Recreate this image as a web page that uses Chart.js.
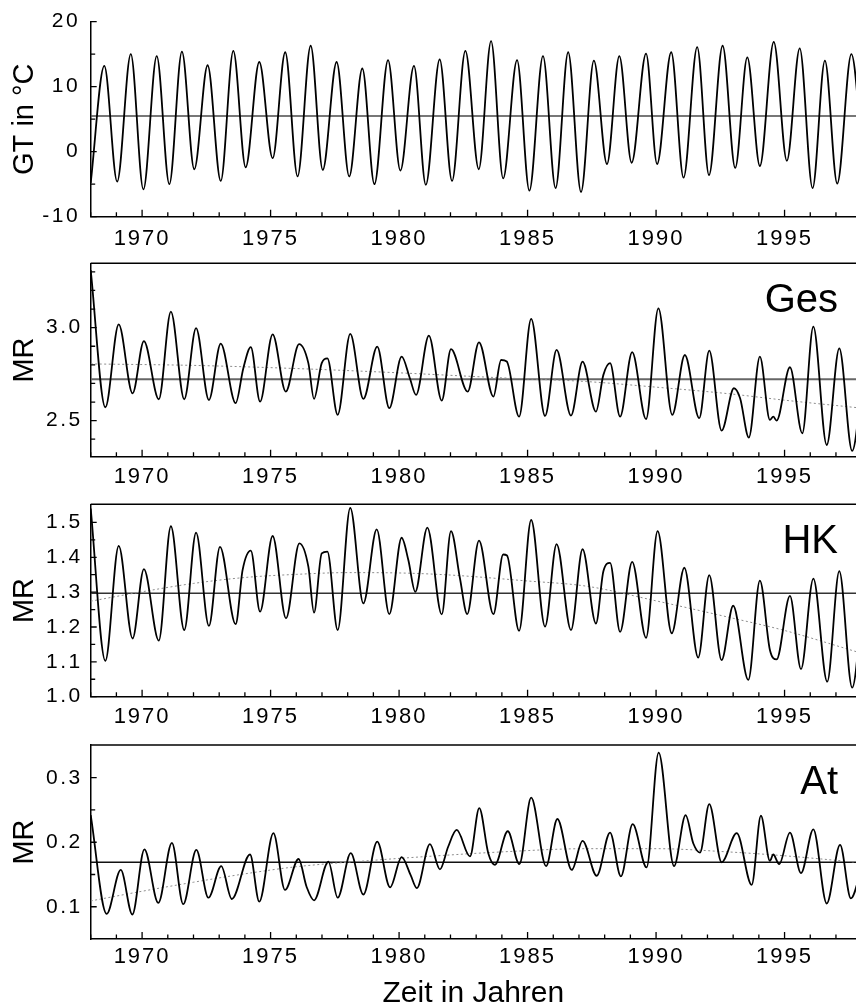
<!DOCTYPE html>
<html><head><meta charset="utf-8">
<script src="https://cdn.jsdelivr.net/npm/chart.js@4.4.1/dist/chart.umd.min.js"></script>
<style>
html,body{margin:0;padding:0;background:#fff;width:856px;height:1007px;overflow:hidden;position:relative;}
canvas{position:absolute;left:0;}
</style></head><body>
<canvas id="c1" width="856" height="260" style="top:0px"></canvas>
<canvas id="c2" width="856" height="240" style="top:255px"></canvas>
<canvas id="c3" width="856" height="245" style="top:495px"></canvas>
<canvas id="c4" width="856" height="275" style="top:740px"></canvas>
<script>
// ---- axis ticks ----
const yearTicks = [1968,1969,1970,1971,1972,1973,1974,1975,1976,1977,1978,1979,1980,1981,1982,1983,1984,1985,1986,1987,1988,1989,1990,1991,1992,1993,1994,1995,1996,1997];
const yearLabels = [1970,1975,1980,1985,1990,1995];
const gtTicks = [-10, 0, 10, 20];
const gtMinor = [-5, 5, 15];
const gesTicks = [2.5, 3.0];
const gesMinor = [2.4, 2.6, 2.7, 2.8, 2.9, 3.1, 3.2, 3.3];
const hkTicks = [1.0, 1.1, 1.2, 1.3, 1.4, 1.5];
const hkMinor = [1.05, 1.15, 1.25, 1.35, 1.45];
const atTicks = [0.1, 0.2, 0.3];
const atMinor = [0.15, 0.25];

// ---- GT (temperature) ----
const gtT = [1968.00,1968.53,1969.03,1969.56,1970.05,1970.57,1971.06,1971.55,1972.03,1972.55,1973.06,1973.55,1974.03,1974.56,1975.08,1975.57,1976.05,1976.56,1977.03,1977.57,1978.06,1978.57,1979.04,1979.57,1980.05,1980.58,1981.04,1981.58,1982.06,1982.58,1983.10,1983.58,1984.05,1984.59,1985.07,1985.60,1986.09,1986.58,1987.08,1987.58,1988.09,1988.57,1989.05,1989.61,1990.04,1990.59,1991.07,1991.60,1992.06,1992.59,1993.08,1993.55,1994.04,1994.58,1995.09,1995.59,1996.09,1996.57,1997.05,1997.60,1998.08];
const gtV = [-4.8,13.2,-4.6,15.0,-5.8,14.7,-5.0,15.4,-2.7,13.3,-4.5,15.5,-2.4,13.8,-1.0,15.3,-3.8,16.3,-2.8,13.8,-3.8,12.8,-5.0,14.1,-2.9,13.2,-5.1,14.2,-4.5,15.5,-2.7,17.0,-4.1,14.1,-6.0,14.7,-5.6,15.3,-6.2,14.0,-1.9,14.7,-1.7,15.1,-1.9,15.3,-4.0,16.1,-3.6,16.3,-2.5,14.5,-2.2,16.9,-1.4,15.9,-5.6,14.0,-4.9,15.0,-3.0];
const gtMean = 5.5;

// ---- Ges ----
const gesT = [1968.00,1968.57,1969.09,1969.63,1970.07,1970.65,1971.12,1971.64,1972.10,1972.60,1973.06,1973.64,1973.94,1974.23,1974.59,1975.08,1975.59,1976.11,1976.47,1976.69,1976.99,1977.21,1977.61,1978.10,1978.61,1979.15,1979.62,1980.10,1980.42,1980.66,1981.16,1981.66,1982.02,1982.67,1983.11,1983.67,1983.97,1984.19,1984.67,1985.14,1985.68,1986.13,1986.69,1987.14,1987.66,1987.95,1988.21,1988.60,1989.07,1989.61,1990.09,1990.63,1991.12,1991.68,1992.07,1992.55,1993.03,1993.27,1993.61,1994.04,1994.43,1994.56,1994.69,1995.21,1995.69,1996.12,1996.64,1997.13,1997.63,1998.12];
const gesV = [3.31,2.572,3.018,2.647,2.928,2.615,3.086,2.615,2.997,2.611,2.914,2.594,2.782,2.895,2.602,2.964,2.656,2.911,2.809,2.617,2.809,2.835,2.531,2.966,2.617,2.898,2.567,2.844,2.728,2.638,2.957,2.608,2.884,2.656,2.921,2.629,2.826,2.818,2.521,3.047,2.525,2.880,2.527,2.817,2.548,2.746,2.809,2.521,2.868,2.508,3.104,2.531,2.853,2.513,2.876,2.446,2.674,2.620,2.409,2.844,2.504,2.521,2.500,2.787,2.432,3.005,2.369,2.889,2.337,2.85];
const gesMean = 2.723;
const gesTrendT = [1968,1972,1976,1980,1984,1987.3,1990,1992.8,1995,1997.8];
const gesTrendV = [2.805,2.797,2.78,2.757,2.73,2.71,2.68,2.645,2.61,2.57];

// ---- HK ----
const hkT = [1968.00,1968.57,1969.09,1969.63,1970.07,1970.65,1971.12,1971.64,1972.10,1972.60,1973.03,1973.64,1973.91,1974.23,1974.59,1975.08,1975.60,1976.12,1976.47,1976.69,1976.99,1977.21,1977.61,1978.10,1978.61,1979.13,1979.62,1980.10,1980.36,1980.63,1981.10,1981.66,1982.02,1982.37,1982.65,1983.11,1983.67,1984.05,1984.20,1984.67,1985.14,1985.68,1986.13,1986.69,1987.14,1987.66,1987.95,1988.21,1988.60,1989.07,1989.61,1990.06,1990.61,1991.10,1991.64,1992.07,1992.55,1993.00,1993.59,1994.04,1994.43,1994.69,1995.21,1995.64,1996.12,1996.66,1997.13,1997.63,1998.12];
const hkV = [1.540,1.103,1.433,1.167,1.366,1.161,1.489,1.191,1.471,1.203,1.430,1.208,1.363,1.419,1.244,1.461,1.225,1.440,1.373,1.241,1.411,1.416,1.191,1.542,1.268,1.480,1.237,1.456,1.392,1.301,1.485,1.236,1.475,1.339,1.237,1.448,1.237,1.408,1.405,1.189,1.507,1.201,1.438,1.191,1.423,1.210,1.360,1.384,1.186,1.387,1.169,1.475,1.182,1.370,1.112,1.349,1.105,1.261,1.048,1.333,1.134,1.107,1.289,1.079,1.339,1.043,1.360,1.026,1.35];
const hkMean = 1.297;
const hkTrendT = [1968,1970,1972,1974,1976,1978,1980,1982,1985,1987.3,1990,1993,1995,1997.8];
const hkTrendV = [1.274,1.301,1.325,1.342,1.351,1.356,1.355,1.349,1.332,1.317,1.275,1.225,1.19,1.129];

// ---- At ----
const atT = [1968.00,1968.62,1969.17,1969.62,1970.09,1970.63,1971.16,1971.60,1972.11,1972.58,1973.08,1973.49,1974.20,1974.56,1975.11,1975.56,1976.09,1976.40,1976.69,1977.25,1977.61,1978.12,1978.61,1979.15,1979.65,1980.10,1980.45,1980.69,1981.20,1981.59,1981.91,1982.24,1982.76,1983.12,1983.47,1983.73,1984.23,1984.68,1985.14,1985.72,1986.16,1986.72,1987.14,1987.69,1988.21,1988.63,1989.09,1989.63,1990.10,1990.70,1991.15,1991.45,1991.71,1992.07,1992.55,1993.14,1993.72,1994.08,1994.43,1994.56,1994.79,1995.21,1995.64,1996.12,1996.64,1997.16,1997.58,1998.0];
const atV = [0.242,0.089,0.157,0.088,0.189,0.106,0.199,0.104,0.188,0.114,0.163,0.112,0.181,0.108,0.214,0.126,0.174,0.131,0.110,0.170,0.114,0.183,0.119,0.201,0.130,0.177,0.149,0.129,0.197,0.158,0.193,0.219,0.178,0.253,0.183,0.165,0.217,0.166,0.269,0.163,0.236,0.157,0.202,0.148,0.215,0.147,0.228,0.161,0.339,0.163,0.242,0.198,0.184,0.259,0.169,0.214,0.134,0.241,0.171,0.181,0.166,0.215,0.152,0.220,0.105,0.196,0.113,0.16];
const atMean = 0.169;
const atTrendT = [1968,1970,1972,1974,1976,1979,1981.5,1984,1987.3,1990,1992.8,1995,1997.8];
const atTrendV = [0.109,0.124,0.138,0.151,0.162,0.172,0.179,0.185,0.19,0.19,0.185,0.179,0.169];

const xMin = 1968, xMax = 1997.78;

Chart.defaults.font.family = "'Liberation Sans', Arial, Helvetica, sans-serif";
Chart.defaults.color = '#000';

function pts(t, v) { return t.map((x, i) => ({x: x, y: v[i]})); }

// widen tick-label lettering (reference digits are set wide)
const labelSpacing = {
  id: 'labelSpacing',
  afterUpdate(chart) {
    Object.values(chart.scales).forEach(s => {
      if (s._spaced) return;
      const orig = s.drawLabels.bind(s);
      const sp = s.axis === 'x' ? '2px' : '2.5px';
      s.drawLabels = function (ca) {
        const ctx = this.ctx;
        ctx.save();
        try { ctx.letterSpacing = sp; } catch (e) {}
        orig(ca);
        ctx.restore();
      };
      s._spaced = true;
    });
  }
};

const inwardTicks = {
  id: 'inward',
  afterDraw(chart, args, o) {
    const ctx = chart.ctx, a = chart.chartArea, xs = chart.scales.x, ys = chart.scales.y;
    ctx.save();
    ctx.strokeStyle = '#000';
    ctx.lineWidth = 1.3;
    ctx.beginPath();
    yearTicks.forEach(v => {
      const p = xs.getPixelForValue(v);
      const len = yearLabels.includes(v) ? 7 : 4.5;
      ctx.moveTo(p, a.bottom); ctx.lineTo(p, a.bottom - len);
    });
    o.yMajor.forEach(v => {
      const p = ys.getPixelForValue(v);
      ctx.moveTo(a.left, p); ctx.lineTo(a.left + 6, p);
    });
    o.yMinor.forEach(v => {
      const p = ys.getPixelForValue(v);
      ctx.moveTo(a.left, p); ctx.lineTo(a.left + 4.5, p);
    });
    ctx.stroke();
    if (o.topLine) {
      ctx.lineWidth = 1.5;
      ctx.beginPath();
      ctx.moveTo(a.left, a.top); ctx.lineTo(a.right, a.top);
      ctx.stroke();
    }
    if (o.label) {
      ctx.fillStyle = '#000';
      ctx.font = "40px 'Liberation Sans', Arial, sans-serif";
      ctx.textAlign = 'right';
      ctx.textBaseline = 'alphabetic';
      ctx.fillText(o.label, a.right - 18, a.top + 49);
    }
    ctx.restore();
  }
};

function panel(id, o) {
  const ds = [{data: pts(o.t, o.v), borderColor: '#000', borderWidth: 1.8, cubicInterpolationMode: 'monotone'}];
  if (o.trendT) ds.push({data: pts(o.trendT, o.trendV), borderColor: '#8c8c8c', borderWidth: 1, borderDash: [2, 2.5], cubicInterpolationMode: 'monotone'});
  ds.push({data: pts([xMin, xMax + 1], [o.mean, o.mean]), borderColor: o.meanColor, borderWidth: o.meanWidth});
  new Chart(document.getElementById(id), {
    type: 'line',
    data: {datasets: ds},
    options: {
      responsive: false, animation: false, devicePixelRatio: 1, parsing: false, events: [],
      elements: {point: {radius: 0, hoverRadius: 0}, line: {fill: false}},
      layout: {padding: {top: o.padTop, left: 0, right: 0, bottom: 0}},
      plugins: {legend: {display: false}, tooltip: {enabled: false},
        inward: {yMajor: o.yTicks, yMinor: o.yMinor, topLine: o.topLine, label: o.label}},
      scales: {
        x: {
          type: 'linear', min: xMin, max: xMax,
          afterBuildTicks: s => { s.ticks = yearLabels.map(v => ({value: v})); },
          afterFit: s => { s.height = o.xH; s.paddingLeft = 0; s.paddingRight = 0; },
          grid: {display: false, drawTicks: false},
          border: {display: true, color: '#000', width: 1.5},
          ticks: {autoSkip: false, maxRotation: 0, padding: o.xPad, font: {size: 22}, color: '#000', callback: v => String(v)},
          title: o.xTitle ? {display: true, text: o.xTitle, font: {size: 30}, color: '#000', padding: {top: 0, bottom: 3}} : {display: false}
        },
        y: {
          type: 'linear', min: o.yMin, max: o.yMax,
          afterBuildTicks: s => { s.ticks = o.yTicks.map(v => ({value: v})); },
          afterFit: s => { s.width = 90.7; s.paddingTop = 0; s.paddingBottom = 0; },
          grid: {display: false, drawTicks: false},
          border: {display: true, color: '#000', width: 1.5},
          ticks: {autoSkip: false, padding: o.yPad, font: {size: 21}, color: '#000', callback: o.fmt},
          title: {display: true, text: o.yTitle, font: {size: 29}, color: '#000', padding: {top: 8, bottom: 0}}
        }
      }
    },
    plugins: [labelSpacing, inwardTicks]
  });
}

panel('c1', {t: gtT, v: gtV, mean: gtMean, meanColor: '#4a4a4a', meanWidth: 1.4,
  yMin: -10, yMax: 20, yTicks: gtTicks, yMinor: gtMinor, fmt: v => String(v),
  padTop: 21.7, xH: 43.3, xPad: 9.5, yPad: 10.5, yTitle: 'GT in °C', topLine: false});
panel('c2', {t: gesT, v: gesV, trendT: gesTrendT, trendV: gesTrendV, mean: gesMean, meanColor: '#666', meanWidth: 2,
  yMin: 2.306, yMax: 3.346, yTicks: gesTicks, yMinor: gesMinor, fmt: v => v.toFixed(1),
  padTop: 8.3, xH: 38.3, xPad: 7, yPad: 8, yTitle: 'MR', topLine: true, label: 'Ges'});
panel('c3', {t: hkT, v: hkV, trendT: hkTrendT, trendV: hkTrendV, mean: hkMean, meanColor: '#333', meanWidth: 1.5,
  yMin: 1.0, yMax: 1.552, yTicks: hkTicks, yMinor: hkMinor, fmt: v => v.toFixed(1),
  padTop: 9.3, xH: 43.3, xPad: 7, yPad: 8, yTitle: 'MR', topLine: true, label: 'HK'});
panel('c4', {t: atT, v: atV, trendT: atTrendT, trendV: atTrendV, mean: atMean, meanColor: '#111', meanWidth: 1.4,
  yMin: 0.05, yMax: 0.3507, yTicks: atTicks, yMinor: atMinor, fmt: v => v.toFixed(1),
  padTop: 5, xH: 76, xPad: 5, yPad: 8, yTitle: 'MR', topLine: true, label: 'At', xTitle: 'Zeit in Jahren'});
</script>
</body></html>
